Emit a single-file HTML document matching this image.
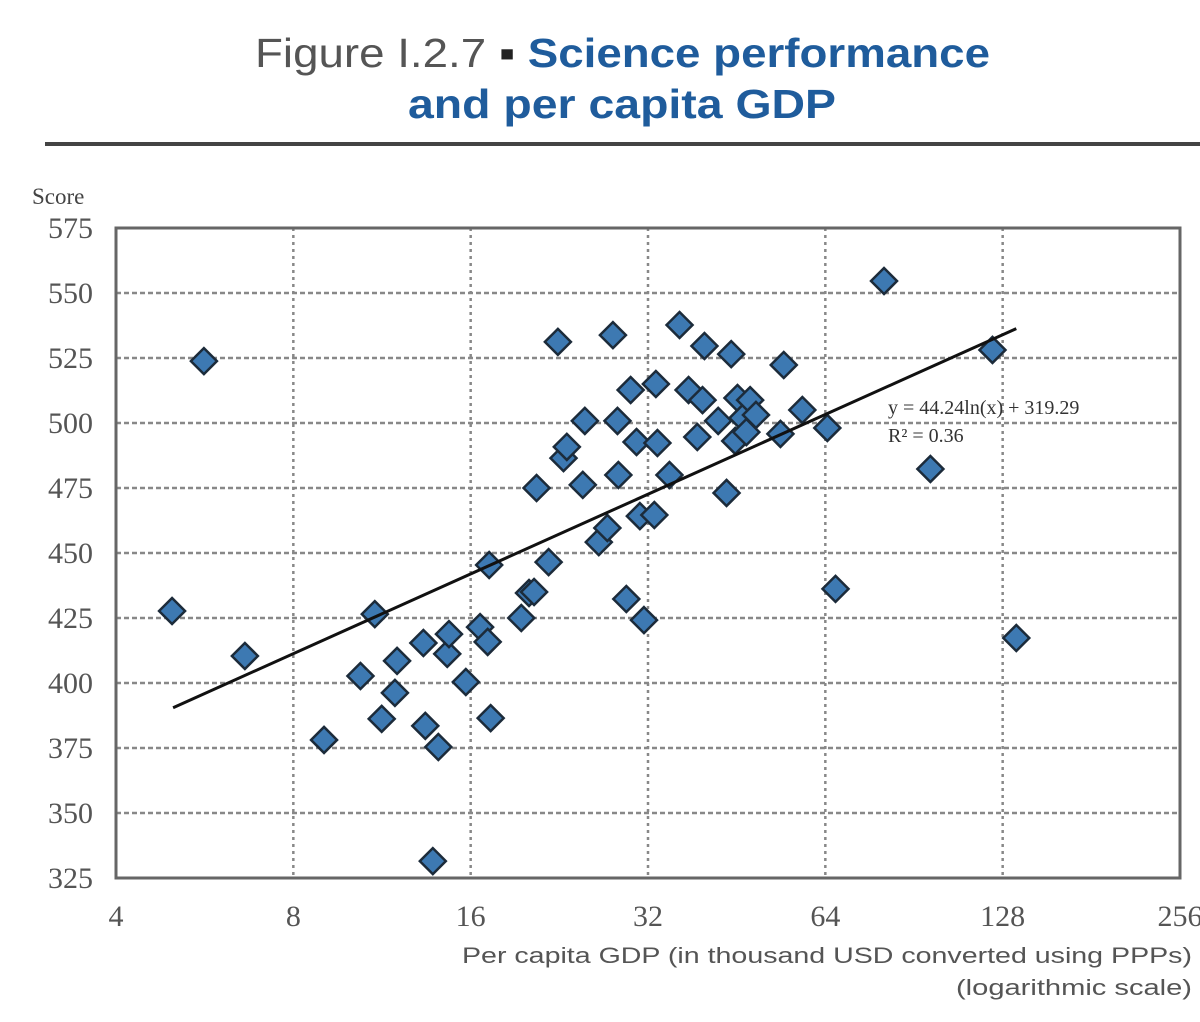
<!DOCTYPE html>
<html><head><meta charset="utf-8"><style>
html,body{margin:0;padding:0;background:#fff;}
svg{display:block;}
</style></head><body>
<svg id="chart" width="1200" height="1022" viewBox="0 0 1200 1022" xmlns="http://www.w3.org/2000/svg">
  <text x="255" y="67" font-family="Liberation Sans, sans-serif" font-size="41" textLength="735" lengthAdjust="spacingAndGlyphs"><tspan fill="#555">Figure I.2.7 </tspan><tspan fill="#222">▪ </tspan><tspan fill="#1f5c9c" font-weight="bold">Science performance</tspan></text>
  <text x="408" y="118" font-family="Liberation Sans, sans-serif" font-size="41" font-weight="bold" fill="#1f5c9c" textLength="428" lengthAdjust="spacingAndGlyphs">and per capita GDP</text>
  <rect x="45" y="142" width="1155" height="4" fill="#444"/>
  <text x="32" y="204" font-family="Liberation Serif, serif" font-size="23" fill="#444">Score</text>
  <g id="grid"></g>
  <g id="axes"></g>
  <g id="marks"></g>
  <text x="1192" y="963" text-anchor="end" font-family="Liberation Sans, sans-serif" font-size="22" fill="#555" textLength="730" lengthAdjust="spacingAndGlyphs">Per capita GDP (in thousand USD converted using PPPs)</text>
  <text x="1192" y="995" text-anchor="end" font-family="Liberation Sans, sans-serif" font-size="22" fill="#555" textLength="236" lengthAdjust="spacingAndGlyphs">(logarithmic scale)</text>
</svg>
<script>
const gdp = [4.98,5.64,6.62,9.02,10.4,11.0,11.3,11.9,12.0,13.3,13.4,13.8,14.1,14.6,14.7,15.7,16.6,17.1,17.2,17.3,19.5,20.1,20.5,20.7,21.7,22.5,23.0,23.3,24.8,25.0,26.4,27.3,27.9,28.4,28.5,29.4,29.9,30.6,31.0,31.5,32.8,33.0,33.2,34.8,36.2,37.5,38.8,39.6,39.9,42.1,43.5,44.3,45.0,45.4,46.3,47.0,47.7,48.8,53.7,54.4,58.5,64.5,66.6,80.5,96.5,123,135];
const score = [427.7,523.8,410.4,378.1,402.7,426.5,386.2,396.2,408.5,415.4,383.5,331.5,375.4,411.2,418.8,400.4,421.5,415.8,445.4,386.5,425,434.6,435,475,446.5,531.2,486.5,490.8,476.2,500.8,454.2,459.6,533.8,500.8,480,432.3,512.7,492.7,464.2,424.2,464.6,515,492.3,480,537.7,512.7,494.6,508.8,529.6,500.8,473.1,526.5,493.1,509.6,501.9,496.5,508.8,503.1,495.8,522.3,505,498.1,436.2,554.6,482.3,528.1,417.3];
const xTicks = [4,8,16,32,64,128,256];
const yTicks = [325,350,375,400,425,450,475,500,525,550,575];
const trendCoef = [44.24, 319.29];
const trendRange = [5.0, 135];

const NS = 'http://www.w3.org/2000/svg';
const L = 116, R = 1180, T = 228, B = 878;
function xs(v){ return L + (Math.log2(v) - 2) / 6 * (R - L); }
function ys(v){ return B - (v - 325) / 250 * (B - T); }
function mk(tag, attrs, parent){ const e = document.createElementNS(NS, tag); for (const k in attrs) e.setAttribute(k, attrs[k]); parent.appendChild(e); return e; }
const grid = document.getElementById('grid'), axes = document.getElementById('axes'), marks = document.getElementById('marks');

xTicks.forEach((t) => {
  const x = xs(t);
  if (t > 4 && t < 256) {
    const g = mk('line', {x1:x, x2:x, y1:T, y2:B, stroke:'#888', 'stroke-width':2.5, 'stroke-dasharray':'3 4'}, grid);
    
    
  }
  const lb = mk('text', {x:x, y:926, 'text-anchor':'middle', 'font-family':'Liberation Serif, serif', 'font-size':30, fill:'#555'}, axes);
  lb.textContent = t;
  
  
});
yTicks.forEach((t) => {
  const y = ys(t);
  if (t > 325 && t < 575) {
    const g = mk('line', {x1:L, x2:R, y1:y, y2:y, stroke:'#888', 'stroke-width':2.5, 'stroke-dasharray':'5 3'}, grid);
    
    
  }
  const lb = mk('text', {x:93, y:y + 10, 'text-anchor':'end', 'font-family':'Liberation Serif, serif', 'font-size':30, fill:'#555'}, axes);
  lb.textContent = t;
  
  
});
const frame = mk('rect', {x:L, y:T, width:R - L, height:B - T, fill:'none', stroke:'#666', 'stroke-width':3}, axes);



gdp.forEach((g, i) => {
  const cx = xs(g), cy = ys(score[i]), r = 13;
  const p = mk('path', {d:`M${cx},${cy - r} L${cx + r},${cy} L${cx},${cy + r} L${cx - r},${cy} Z`, fill:'#3d79b2', stroke:'#1c2b3a', 'stroke-width':2.5}, marks);
  
  
});

const tl = mk('line', {x1:xs(trendRange[0]), y1:ys(trendCoef[0] * Math.log(trendRange[0]) + trendCoef[1]), x2:xs(trendRange[1]), y2:ys(trendCoef[0] * Math.log(trendRange[1]) + trendCoef[1]), stroke:'#111', 'stroke-width':3}, marks);



const eq = mk('text', {x:888, y:414, 'font-family':'Liberation Serif, serif', 'font-size':20, fill:'#333'}, marks);
eq.textContent = 'y = ' + trendCoef[0] + 'ln(x) + ' + trendCoef[1];


const r2 = mk('text', {x:888, y:442, 'font-family':'Liberation Serif, serif', 'font-size':20, fill:'#333'}, marks);
r2.textContent = 'R² = 0.36';


</script>
</body></html>
